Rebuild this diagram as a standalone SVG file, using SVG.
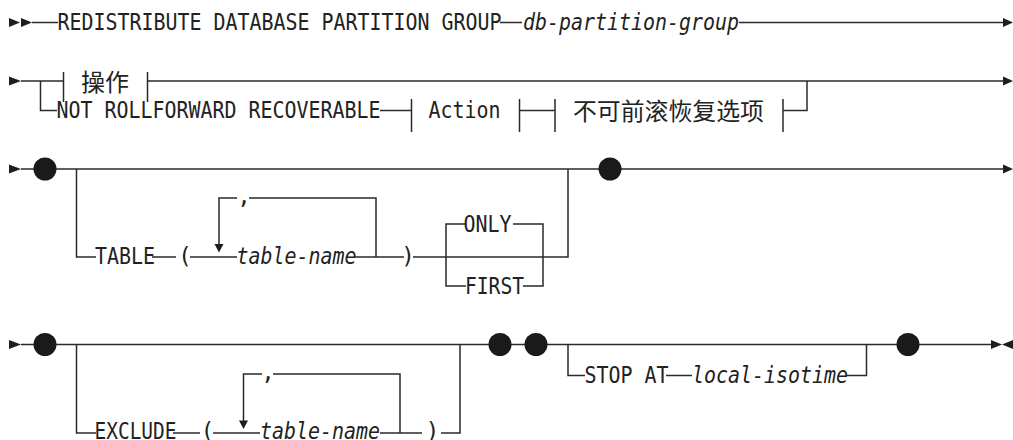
<svg xmlns="http://www.w3.org/2000/svg" width="1013" height="440" viewBox="0 0 1013 440">
<style>
  .ln { fill: none; stroke: #2a2a2a; stroke-width: 1.5; }
  .ah { fill: #1e1e1e; stroke: none; }
  .dot { fill: #1a1a1a; }
  .t { font-family: "DejaVu Sans Mono", "Liberation Mono", monospace; font-size: 22.5px; fill: #222; }
  .it { font-style: italic; }
  .cjk { font-family: "Noto Sans CJK SC", "Noto Sans", sans-serif; font-size: 23.5px; fill: #222; }
</style>
<rect width="1013" height="440" fill="#ffffff"/>

<g id="connectors">
  <!-- row 1 -->
  <path class="ln" d="M32 22.5 H58 M500 22.5 H522 M739 22.5 H1004"/>
  <polygon class="ah" points="9,18 20,22.5 9,27"/>
  <polygon class="ah" points="21,18 32,22.5 21,27"/>
  <polygon class="ah" points="1003,18 1013,22.5 1003,27"/>
  <!-- row 2 -->
  <polygon class="ah" points="9,76.5 21,81 9,85.5"/>
  <path class="ln" d="M21 81 H63.5 M40.5 81 V110.5 H57 M63.5 72 V102 M147.5 72 V102 M147.5 81 H1004"/>
  <path class="ln" d="M380 110.5 H411.5 M411.5 99 V132 M519.5 99 V132 M519.5 110.5 H555 M555 99 V132 M783 99 V132 M783 110.5 H807 V81"/>
  <polygon class="ah" points="1003,76.5 1013,81 1003,85.5"/>
  <!-- row 3 -->
  <polygon class="ah" points="9,164.5 21,169 9,173.5"/>
  <path class="ln" d="M21 169 H1004 M76.5 169 V257 H96 M152 257 H176 M190 257 H237 M355 257 H404 M413 257 H568 V169"/>
  <path class="ln" d="M376 257 V198 H249 M237 198 H219 V245"/>
  <polygon class="ah" points="214.5,244 223.5,244 219,252.5"/>
  <path class="ln" d="M465 224 H446 V286 H466 M513 224 H543 V286 H523"/>
  <polygon class="ah" points="1003,164.5 1013,169 1003,173.5"/>
  <!-- row 4 -->
  <polygon class="ah" points="9,340 21,344.5 9,349"/>
  <path class="ln" d="M21 344.5 H992 M76.5 344.5 V433 H96 M173 433 H200 M213 433 H260 M380 433 H422 M441 433 H460 V344.5"/>
  <path class="ln" d="M400 433 V374 H273 M262 374 H243.5 V421"/>
  <polygon class="ah" points="239,420.5 248,420.5 243.5,429"/>
  <path class="ln" d="M568 344.5 V375.5 H585 M666 375.5 H692 M846 375.5 H866.5 V344.5"/>
  <polygon class="ah" points="991,340 1002,344.5 991,349"/>
  <polygon class="ah" points="1013,340 1002,344.5 1013,349"/>
</g>

<g id="dots">
  <circle class="dot" cx="45" cy="169" r="11.5"/>
  <circle class="dot" cx="610" cy="169" r="11.5"/>
  <circle class="dot" cx="45" cy="344.5" r="11.5"/>
  <circle class="dot" cx="500" cy="344.5" r="11.5"/>
  <circle class="dot" cx="536" cy="344.5" r="11.5"/>
  <circle class="dot" cx="908" cy="344.5" r="11.5"/>
</g>

<g id="n-redistribute"><text class="t" x="57.5" y="30" textLength="444" lengthAdjust="spacingAndGlyphs">REDISTRIBUTE DATABASE PARTITION GROUP</text></g>
<g id="n-dbgroup"><text class="t it" x="523" y="30" textLength="216" lengthAdjust="spacingAndGlyphs">db-partition-group</text></g>

<g id="n-action-cn"><text class="cjk" x="81" y="90.5" textLength="48" lengthAdjust="spacingAndGlyphs">操作</text></g>
<g id="n-notroll"><text class="t" x="56.5" y="118" textLength="324" lengthAdjust="spacingAndGlyphs">NOT ROLLFORWARD RECOVERABLE</text></g>
<g id="n-action"><text class="t" x="428.5" y="118" textLength="72" lengthAdjust="spacingAndGlyphs">Action</text></g>
<g id="n-nrf-options"><text class="cjk" x="573" y="119.5" textLength="191" lengthAdjust="spacingAndGlyphs">不可前滚恢复选项</text></g>

<g id="n-table"><text class="t" x="95" y="264" textLength="60" lengthAdjust="spacingAndGlyphs">TABLE</text></g>
<g id="n-table-lp"><text class="t" x="185" y="264" text-anchor="middle">(</text></g>
<g id="n-table-comma"><text class="t" x="244" y="204" text-anchor="middle">,</text></g>
<g id="n-table-name"><text class="t it" x="236.5" y="264" textLength="120" lengthAdjust="spacingAndGlyphs">table-name</text></g>
<g id="n-table-rp"><text class="t" x="408" y="264" text-anchor="middle">)</text></g>
<g id="n-only"><text class="t" x="463.5" y="232" textLength="48" lengthAdjust="spacingAndGlyphs">ONLY</text></g>
<g id="n-first"><text class="t" x="465" y="294" textLength="59" lengthAdjust="spacingAndGlyphs">FIRST</text></g>

<g id="n-exclude"><text class="t" x="94.5" y="439" textLength="82" lengthAdjust="spacingAndGlyphs">EXCLUDE</text></g>
<g id="n-exclude-lp"><text class="t" x="207.5" y="439" text-anchor="middle">(</text></g>
<g id="n-exclude-comma"><text class="t" x="268" y="380" text-anchor="middle">,</text></g>
<g id="n-exclude-name"><text class="t it" x="260" y="439" textLength="120" lengthAdjust="spacingAndGlyphs">table-name</text></g>
<g id="n-exclude-rp"><text class="t" x="432.5" y="439" text-anchor="middle">)</text></g>

<g id="n-stopat"><text class="t" x="584.5" y="383" textLength="84" lengthAdjust="spacingAndGlyphs">STOP AT</text></g>
<g id="n-isotime"><text class="t it" x="692" y="383" textLength="156" lengthAdjust="spacingAndGlyphs">local-isotime</text></g>
</svg>
